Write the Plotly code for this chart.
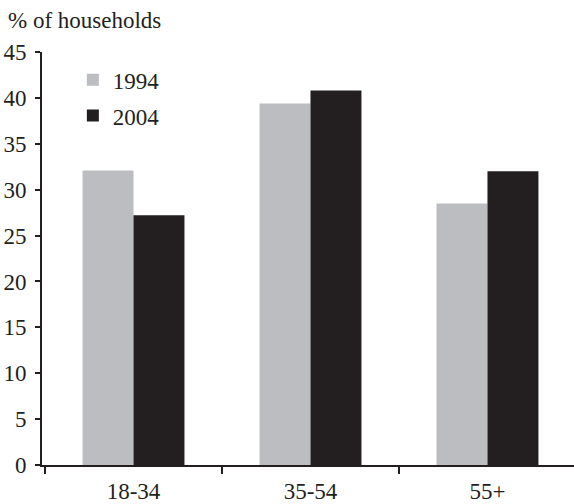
import plotly.graph_objects as go

categories = ["18-34", "35-54", "55+"]
values_1994 = [32.1, 39.4, 28.5]
values_2004 = [27.2, 40.8, 32.0]
y_ticks = [0, 5, 10, 15, 20, 25, 30, 35, 40, 45]

FONT = "Liberation Serif, Times New Roman, serif"
FS = 23

fig = go.Figure()
fig.add_trace(go.Bar(name="1994", x=categories, y=values_1994,
                     marker=dict(color="#BCBDC0", line=dict(width=0)),
                     legendgroup="a"))
fig.add_trace(go.Bar(name="2004", x=categories, y=values_2004,
                     marker=dict(color="#231F20", line=dict(width=0)),
                     legendgroup="b"))

fig.update_layout(
    width=574, height=504,
    margin=dict(l=42, r=0, t=52, b=39, autoexpand=False),
    paper_bgcolor="white", plot_bgcolor="white",
    barmode="group", bargap=0.424, bargroupgap=0,
    font=dict(family=FONT, size=FS, color="#231F20"),
    showlegend=True,
    legend=dict(x=0.058, y=0.985, xanchor="left", yanchor="top",
                bgcolor="rgba(0,0,0,0)", traceorder="grouped",
                tracegroupgap=3, itemwidth=30,
                font=dict(family=FONT, size=FS)),
    title=dict(text="% of households", x=8/574, xanchor="left",
               xref="container", y=1 - 20/504, yanchor="middle", yref="container",
               font=dict(family=FONT, size=FS, color="#231F20")),
)
fig.update_xaxes(showline=True, linecolor="#231F20", linewidth=2,
                 ticks="outside", tickson="boundaries", ticklen=7, tickwidth=2,
                 tickcolor="#231F20", showgrid=False, zeroline=False,
                 range=[-0.517, 2.489], ticklabelstandoff=4)
fig.update_yaxes(range=[0, 45], tickvals=y_ticks, showline=True,
                 linecolor="#231F20", linewidth=2, ticks="outside", ticklen=5,
                 tickwidth=2, tickcolor="#231F20", showgrid=False, zeroline=False,
                 ticklabelstandoff=4)

fig.write_html("out.html",
               config={"displayModeBar": False, "staticPlot": True},
               post_script="document.body.style.margin='0';document.body.style.padding='0';")
